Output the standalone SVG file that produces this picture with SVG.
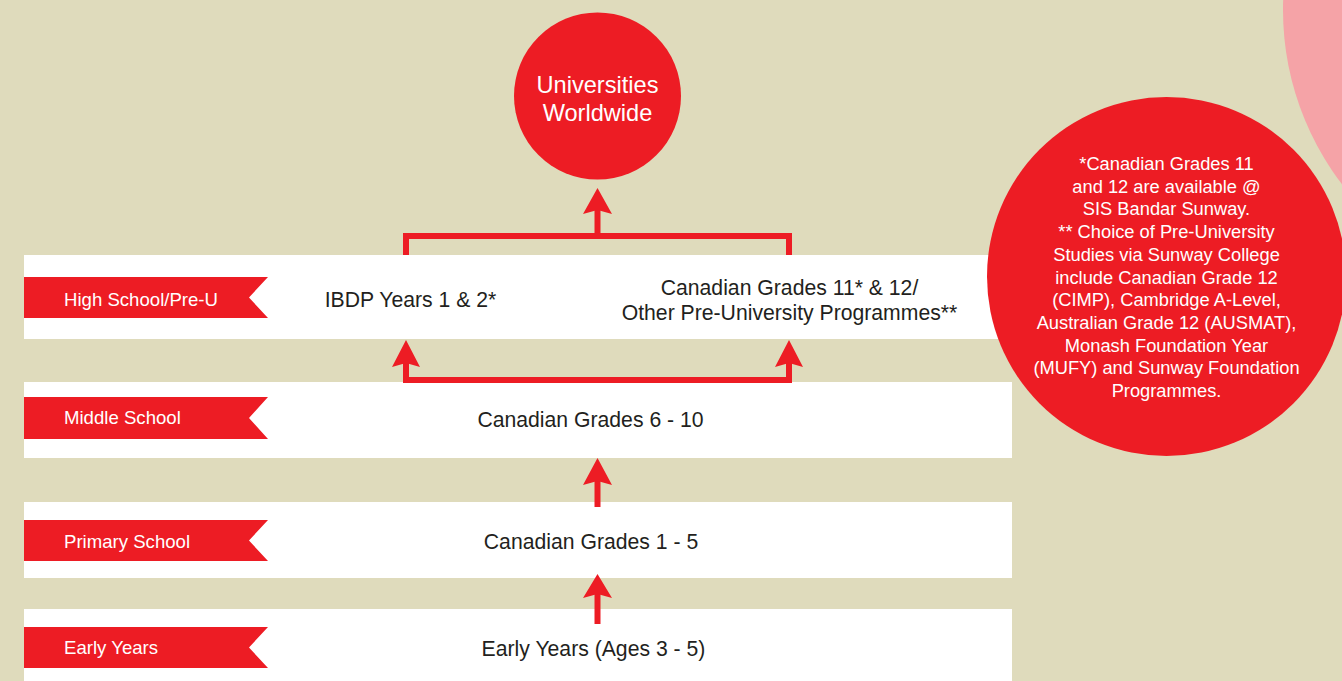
<svg xmlns="http://www.w3.org/2000/svg" width="1342" height="681" viewBox="0 0 1342 681">
<defs>
<style>
.bg{fill:#DFDBBC}
.band{fill:#FFFFFF}
.red{fill:#ED1C24}
.rib{font-family:"Liberation Sans",Arial,sans-serif;font-size:18.6px;fill:#FFFFFF}
.main{font-family:"Liberation Sans",Arial,sans-serif;font-size:21.2px;fill:#231F20;text-anchor:middle}
.circ{font-family:"Liberation Sans",Arial,sans-serif;font-size:23.6px;fill:#FFFFFF;text-anchor:middle}
.note{font-family:"Liberation Sans",Arial,sans-serif;font-size:18.3px;fill:#FFFFFF;text-anchor:middle}
.line{fill:none;stroke:#ED1C24;stroke-width:6}
</style>
</defs>
<rect class="bg" x="0" y="0" width="1342" height="681"/>
<circle cx="1570" cy="10" r="287" fill="#F5A3A7"/>

<g id="band-high">
<rect class="band" x="24" y="255" width="988" height="84"/>
<polygon class="red" points="24,277 268,277 249,297.5 268,318 24,318"/>
<text class="rib" x="64" y="305.5">High School/Pre-U</text>
</g>
<g id="band-middle">
<rect class="band" x="24" y="382" width="988" height="76"/>
<polygon class="red" points="24,397 268,397 249,418 268,439 24,439"/>
<text class="rib" x="64" y="423.5">Middle School</text>
</g>
<g id="band-primary">
<rect class="band" x="24" y="502" width="988" height="76"/>
<polygon class="red" points="24,520 268,520 249,540.5 268,561 24,561"/>
<text class="rib" x="64" y="548">Primary School</text>
</g>
<g id="band-early">
<rect class="band" x="24" y="609" width="988" height="80"/>
<polygon class="red" points="24,627 268,627 249,647.5 268,668 24,668"/>
<text class="rib" x="64" y="653.5">Early Years</text>
</g>

<g id="node-ibdp">
<text class="main" x="410.5" y="306.5">IBDP Years 1 &amp; 2*</text>
</g>
<g id="node-canadian-11-12">
<text class="main" x="789.5" y="294.5">Canadian Grades 11* &amp; 12/</text>
<text class="main" x="789.5" y="319.5">Other Pre-University Programmes**</text>
</g>
<g id="node-grades-6-10">
<text class="main" x="590.5" y="426.5">Canadian Grades 6 - 10</text>
</g>
<g id="node-grades-1-5">
<text class="main" x="591" y="548.5">Canadian Grades 1 - 5</text>
</g>
<g id="node-early">
<text class="main" x="593.5" y="655.5">Early Years (Ages 3 - 5)</text>
</g>

<g id="node-universities">
<circle class="red" cx="597.5" cy="96" r="83.5"/>
<text class="circ" x="597.5" y="93">Universities</text>
<text class="circ" x="597.5" y="121">Worldwide</text>
</g>

<g id="node-note">
<circle class="red" cx="1166.5" cy="276.5" r="179.5"/>
<text class="note" x="1166.5" y="170">*Canadian Grades 11</text>
<text class="note" x="1166.5" y="192.7">and 12 are available @</text>
<text class="note" x="1166.5" y="215.4">SIS Bandar Sunway.</text>
<text class="note" x="1166.5" y="238.1">** Choice of Pre-University</text>
<text class="note" x="1166.5" y="260.8">Studies via Sunway College</text>
<text class="note" x="1166.5" y="283.5">include Canadian Grade 12</text>
<text class="note" x="1166.5" y="306.2">(CIMP), Cambridge A-Level,</text>
<text class="note" x="1166.5" y="328.9">Australian Grade 12 (AUSMAT),</text>
<text class="note" x="1166.5" y="351.6">Monash Foundation Year</text>
<text class="note" x="1166.5" y="374.3">(MUFY) and Sunway Foundation</text>
<text class="note" x="1166.5" y="397">Programmes.</text>
</g>

<g id="connectors">
<path class="line" d="M406 255 V236 H789 V255"/>
<path class="line" d="M597.5 236 V210"/>
<polygon class="red" points="597.5,188 612,214 597.5,210 583,214"/>
<path class="line" d="M406 362 V380 H789 V362"/>
<polygon class="red" points="406,340 420,367 406,363 392,367"/>
<polygon class="red" points="789,340 803,367 789,363 775,367"/>
<path class="line" d="M597.5 480 V507"/>
<polygon class="red" points="597.5,458 612,485 597.5,481 583,485"/>
<path class="line" d="M597.5 594 V624"/>
<polygon class="red" points="597.5,574 612,598 597.5,594 583,598"/>
</g>
</svg>
